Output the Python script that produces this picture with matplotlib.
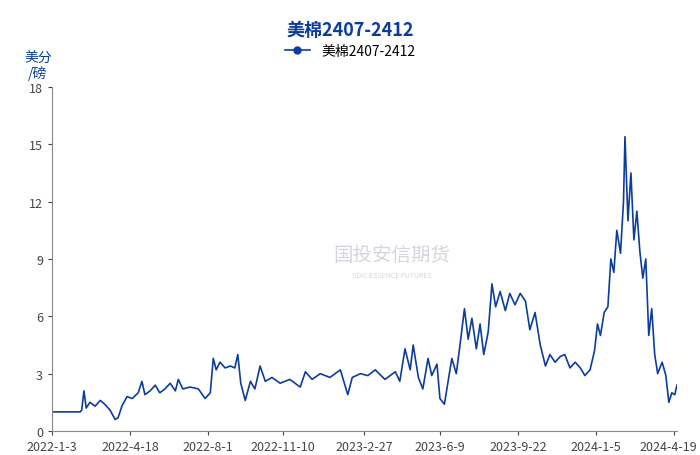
import matplotlib
matplotlib.use("Agg")
import matplotlib.pyplot as plt
import matplotlib.transforms as mtransforms
import pandas as pd
from matplotlib.lines import Line2D

plt.rcParams['font.family'] = ['Noto Sans CJK SC', 'DejaVu Sans']

# ---- data ----
dates = [
    "2022-01-03", "2022-02-10", "2022-02-12", "2022-02-15", "2022-02-18", "2022-02-23",
    "2022-03-02", "2022-03-09", "2022-03-15", "2022-03-22", "2022-03-29", "2022-04-02",
    "2022-04-07", "2022-04-14", "2022-04-21", "2022-04-29", "2022-05-04", "2022-05-08",
    "2022-05-15", "2022-05-22", "2022-05-28", "2022-06-04", "2022-06-11", "2022-06-18",
    "2022-06-22", "2022-06-28", "2022-07-08", "2022-07-19", "2022-07-28", "2022-08-04",
    "2022-08-08", "2022-08-12", "2022-08-17", "2022-08-24", "2022-08-31", "2022-09-06",
    "2022-09-10", "2022-09-14", "2022-09-20", "2022-09-27", "2022-10-03", "2022-10-10",
    "2022-10-17", "2022-10-26", "2022-11-06", "2022-11-19", "2022-12-03", "2022-12-10",
    "2022-12-19", "2022-12-30", "2023-01-12", "2023-01-26", "2023-02-05", "2023-02-11",
    "2023-02-22", "2023-03-04", "2023-03-14", "2023-03-27", "2023-04-10", "2023-04-16",
    "2023-04-23", "2023-04-30", "2023-05-04", "2023-05-11", "2023-05-17", "2023-05-24",
    "2023-05-29", "2023-06-05", "2023-06-09", "2023-06-15", "2023-06-20", "2023-06-25",
    "2023-07-01", "2023-07-06", "2023-07-12", "2023-07-17", "2023-07-22", "2023-07-28",
    "2023-08-02", "2023-08-07", "2023-08-13", "2023-08-18", "2023-08-23", "2023-08-29",
    "2023-09-05", "2023-09-11", "2023-09-18", "2023-09-25", "2023-10-02", "2023-10-08",
    "2023-10-15", "2023-10-22", "2023-10-29", "2023-11-04", "2023-11-11", "2023-11-18",
    "2023-11-24", "2023-12-01", "2023-12-08", "2023-12-15", "2023-12-21", "2023-12-28",
    "2024-01-03", "2024-01-07", "2024-01-11", "2024-01-16", "2024-01-21", "2024-01-25",
    "2024-01-29", "2024-02-02", "2024-02-07", "2024-02-11", "2024-02-13", "2024-02-17",
    "2024-02-21", "2024-02-25", "2024-02-29", "2024-03-04", "2024-03-08", "2024-03-12",
    "2024-03-16", "2024-03-20", "2024-03-24", "2024-03-28", "2024-04-03", "2024-04-08",
    "2024-04-12", "2024-04-16", "2024-04-20", "2024-04-23",
]
values = [
    1.0, 1.0, 1.1, 2.1, 1.2, 1.5,
    1.3, 1.6, 1.4, 1.1, 0.6, 0.7,
    1.3, 1.8, 1.7, 2.0, 2.6, 1.9,
    2.1, 2.4, 2.0, 2.2, 2.5, 2.1,
    2.7, 2.2, 2.3, 2.2, 1.7, 2.0,
    3.8, 3.2, 3.6, 3.3, 3.4, 3.3,
    4.0, 2.5, 1.6, 2.6, 2.2, 3.4,
    2.6, 2.8, 2.5, 2.7, 2.3, 3.1,
    2.7, 3.0, 2.8, 3.2, 1.9, 2.8,
    3.0, 2.9, 3.2, 2.7, 3.1, 2.6,
    4.3, 3.2, 4.5, 2.8, 2.2, 3.8,
    2.9, 3.5, 1.7, 1.4, 2.6, 3.8,
    3.0, 4.5, 6.4, 4.8, 5.9, 4.3,
    5.6, 4.0, 5.2, 7.7, 6.5, 7.3,
    6.3, 7.2, 6.6, 7.2, 6.8, 5.3,
    6.2, 4.5, 3.4, 4.0, 3.6, 3.9,
    4.0, 3.3, 3.6, 3.3, 2.9, 3.2,
    4.2, 5.6, 5.0, 6.2, 6.5, 9.0,
    8.3, 10.5, 9.3, 12.0, 15.4, 11.0,
    13.5, 10.0, 11.5, 9.4, 8.0, 9.0,
    5.0, 6.4, 4.0, 3.0, 3.6, 2.9,
    1.5, 2.0, 1.9, 2.4,
]
tick_dates = ["2022-01-03", "2022-04-18", "2022-08-01", "2022-11-10", "2023-02-27",
              "2023-06-09", "2023-09-22", "2024-01-05", "2024-04-19"]
tick_labels = ["2022-1-3", "2022-4-18", "2022-8-1", "2022-11-10", "2023-2-27",
               "2023-6-9", "2023-9-22", "2024-1-5", "2024-4-19"]
y_ticks = [0, 3, 6, 9, 12, 15, 18]
series_name = "美棉2407-2412"

blue = "#0d3d9c"

fig = plt.figure(figsize=(7, 4.56), dpi=100)
ax = fig.add_axes([52 / 700, 24 / 456, 625 / 700, 344 / 456])

x = pd.to_datetime(dates)
ax.plot(x, values, color=blue, lw=1.2)

ax.set_xlim(pd.Timestamp("2022-01-03"), pd.Timestamp("2024-04-23"))
ax.set_ylim(0, 18)
ax.set_yticks(y_ticks)
ax.set_xticks(pd.to_datetime(tick_dates))
ax.set_xticklabels(tick_labels)
ax.tick_params(labelsize=9, colors="#444444", length=3)
# nudge the last label a little left so it stays inside the canvas
last = ax.get_xticklabels()[-1]
last.set_transform(last.get_transform() +
                   mtransforms.ScaledTranslation(-6 / 100, 0, fig.dpi_scale_trans))
for s in ["top", "right"]:
    ax.spines[s].set_visible(False)
for s in ["left", "bottom"]:
    ax.spines[s].set_color("#888888")

fig.text(0.5, 0.934, series_name, ha="center", va="center", fontsize=13,
         fontweight="bold", color=blue)
h = Line2D([], [], color=blue, marker="o", markersize=5, lw=1.2)
fig.legend([h], [series_name], loc="center", bbox_to_anchor=(0.5, 0.886),
           frameon=False, fontsize=10, handlelength=1.8)
fig.text(38 / 700, 0.855, "美分\n/磅", ha="center", va="center", fontsize=10,
         color=blue, linespacing=1.0)

# watermark
fig.text(0.56, 0.44, "国投安信期货", ha="center", va="center", fontsize=14,
         color="#c8ccd6", alpha=0.8)
fig.text(0.56, 0.395, "SDIC ESSENCE FUTURES", ha="center", va="center", fontsize=5,
         color="#c8ccd6", alpha=0.8)

fig.savefig("out.png", dpi=100)
